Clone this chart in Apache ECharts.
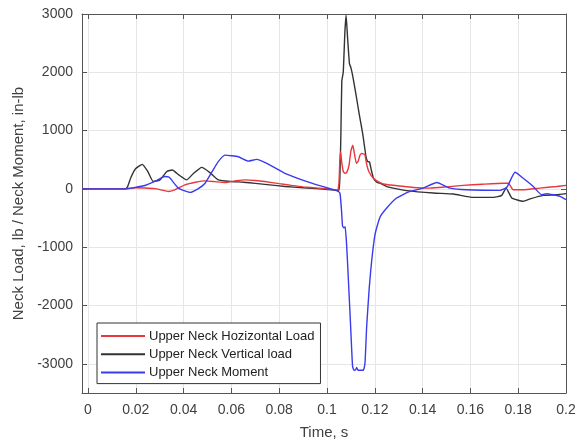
<!DOCTYPE html>
<html>
<head>
<meta charset="utf-8">
<script src="https://cdn.jsdelivr.net/npm/echarts@6/dist/echarts.min.js"></script>
<style>
html,body{margin:0;padding:0;background:#fff;}
#chart{width:587px;height:445px;}
</style>
</head>
<body>
<div id="chart"></div>
<script>
// Tick labels
var xTicks = [0, 0.02, 0.04, 0.06, 0.08, 0.1, 0.12, 0.14, 0.16, 0.18, 0.2];
var yTicks = [-3000, -2000, -1000, 0, 1000, 2000, 3000];

// Upper Neck Hozizontal Load (red)
var timeH = [-0.0025, 0, 0.010, 0.016, 0.020, 0.024, 0.028, 0.031, 0.0336, 0.036, 0.0406, 0.045, 0.049, 0.053, 0.0573, 0.062, 0.0657, 0.070, 0.074, 0.080, 0.0852, 0.090, 0.0964, 0.100, 0.1035, 0.1045, 0.1050, 0.1054, 0.1057, 0.1062, 0.1068, 0.1075, 0.1082, 0.1092, 0.1100, 0.1108, 0.1115, 0.1123, 0.1130, 0.1138, 0.1145, 0.1158, 0.1166, 0.1175, 0.1194, 0.1222, 0.125, 0.1305, 0.1361, 0.143, 0.150, 0.157, 0.165, 0.1738, 0.1759, 0.1779, 0.182, 0.189, 0.196, 0.2];
var loadH = [0, 0, 0, 5, 20, 15, 5, -20, -43, -20, 70, 115, 138, 125, 110, 140, 155, 145, 127, 90, 60, 35, 14, 0, -15, -20, 100, 500, 637, 450, 300, 270, 280, 400, 650, 749, 600, 440, 470, 580, 608, 590, 420, 300, 183, 110, 75, 50, 25, 14, 35, 60, 80, 98, 98, -15, -15, 14, 42, 60];

// Upper Neck Vertical load (black)
var timeV = [-0.0025, 0, 0.0155, 0.0165, 0.018, 0.020, 0.0227, 0.025, 0.0273, 0.030, 0.033, 0.0353, 0.038, 0.0413, 0.044, 0.0476, 0.051, 0.0545, 0.060, 0.065, 0.070, 0.076, 0.0824, 0.090, 0.097, 0.1035, 0.1050, 0.1054, 0.1058, 0.1062, 0.1068, 0.1075, 0.1080, 0.1086, 0.1094, 0.1100, 0.1108, 0.1120, 0.1135, 0.1150, 0.1163, 0.1170, 0.1178, 0.1185, 0.1195, 0.1210, 0.1222, 0.1250, 0.1277, 0.1333, 0.1445, 0.1529, 0.1612, 0.1696, 0.1731, 0.1749, 0.1773, 0.1793, 0.1821, 0.185, 0.1905, 0.196, 0.2];
var loadV = [0, 0, 0, 30, 200, 350, 421, 300, 127, 150, 300, 325, 240, 155, 260, 370, 280, 155, 127, 115, 95, 70, 42, 20, 0, -20, -30, 200, 900, 1850, 2000, 2700, 2980, 2600, 2150, 2080, 1930, 1650, 1280, 930, 560, 470, 460, 330, 180, 110, 98, 40, 14, -30, -71, -88, -145, -145, -110, 14, -156, -185, -212, -170, -110, -100, -80];

// Upper Neck Moment (blue)
var timeM = [-0.0025, 0, 0.016, 0.019, 0.0238, 0.028, 0.0322, 0.034, 0.0378, 0.0427, 0.046, 0.049, 0.052, 0.0545, 0.0573, 0.0629, 0.0671, 0.0706, 0.0748, 0.0824, 0.0936, 0.1000, 0.1040, 0.1054, 0.1061, 0.1065, 0.1071, 0.1076, 0.1082, 0.1089, 0.1099, 0.1107, 0.1113, 0.1120, 0.1124, 0.1130, 0.1152, 0.1159, 0.1166, 0.1177, 0.1187, 0.1201, 0.1222, 0.1250, 0.1291, 0.1347, 0.1403, 0.1459, 0.1515, 0.1585, 0.1724, 0.1752, 0.1787, 0.1821, 0.1863, 0.1898, 0.1919, 0.1947, 0.1975, 0.2];
var moment = [0, 0, 0, 20, 59, 130, 212, 200, 14, -60, 0, 98, 300, 467, 580, 551, 477, 506, 438, 268, 98, 20, -30, -70, -381, -636, -665, -650, -949, -1514, -2363, -3042, -3110, -3100, -3060, -3110, -3110, -2986, -2363, -1684, -1232, -779, -480, -326, -156, -42, 14, 110, 14, -15, -25, 25, 285, 183, 42, -100, -80, -100, -127, -185];

function zip(t, v) { return t.map(function (x, i) { return [x, v[i]]; }); }

var textColor = '#404040';
var font = 'Liberation Sans, Arial, Helvetica, sans-serif';

var chart = echarts.init(document.getElementById('chart'), null, { renderer: 'canvas' });
chart.setOption({
  animation: false,
  backgroundColor: '#ffffff',
  textStyle: { fontFamily: font },
  grid: { left: 82, right: 21, top: 14, bottom: 48, containLabel: false },
  legend: {
    orient: 'vertical',
    left: 97, top: 323,
    padding: [5, 6, 3, 4],
    itemWidth: 44, itemHeight: 2,
    itemGap: 2.3,
    icon: 'rect',
    backgroundColor: '#ffffff',
    borderColor: '#333333', borderWidth: 1,
    textStyle: { fontSize: 13, color: '#222', fontFamily: font, lineHeight: 16, padding: [0, 0, 0, -1] },
    data: ['Upper Neck Hozizontal Load', 'Upper Neck Vertical load', 'Upper Neck Moment']
  },
  xAxis: [{
    type: 'value', min: -0.0025, max: 0.2, splitNumber: 10,
    name: 'Time, s', nameLocation: 'middle', nameGap: 32,
    nameTextStyle: { fontSize: 15, color: textColor, fontFamily: font },
    axisLine: { show: true, onZero: false, lineStyle: { color: '#555', width: 1 } },
    axisTick: { show: true, inside: true, length: 5, customValues: xTicks, lineStyle: { color: '#555' } },
    axisLabel: { show: true, margin: 10, fontSize: 14, color: textColor, customValues: xTicks,
      formatter: function (v) { return String(+(+v).toFixed(3)); } },
    splitLine: { show: true, lineStyle: { color: '#e6e6e6', width: 1 } }
  }, {
    type: 'value', position: 'top', min: -0.0025, max: 0.2, splitNumber: 10,
    axisLine: { show: true, onZero: false, lineStyle: { color: '#555', width: 1 } },
    axisTick: { show: true, inside: true, length: 5, customValues: xTicks, lineStyle: { color: '#555' } },
    axisLabel: { show: false },
    splitLine: { show: false }
  }],
  yAxis: [{
    type: 'value', min: -3500, max: 3000, splitNumber: 6,
    name: 'Neck Load, lb / Neck Moment, in-lb', nameLocation: 'middle', nameGap: 43,
    nameTextStyle: { fontSize: 15, color: textColor, fontFamily: font },
    axisLine: { show: true, onZero: false, lineStyle: { color: '#555', width: 1 } },
    axisTick: { show: true, inside: true, length: 5, customValues: yTicks, lineStyle: { color: '#555' } },
    axisLabel: { show: true, margin: 9, fontSize: 14, color: textColor, customValues: yTicks,
      formatter: function (v) { return String(Math.round(v)); } },
    splitLine: { show: true, lineStyle: { color: '#e6e6e6', width: 1 } }
  }, {
    type: 'value', position: 'right', min: -3500, max: 3000, splitNumber: 6,
    axisLine: { show: true, onZero: false, lineStyle: { color: '#555', width: 1 } },
    axisTick: { show: true, inside: true, length: 5, customValues: yTicks, lineStyle: { color: '#555' } },
    axisLabel: { show: false },
    splitLine: { show: false }
  }],
  series: [
    { name: 'Upper Neck Hozizontal Load', type: 'line', xAxisIndex: 0, yAxisIndex: 0, showSymbol: false, symbol: 'none',
      smooth: 0.15, color: '#e8383d', lineStyle: { width: 1.4, color: '#e8383d' }, data: zip(timeH, loadH), z: 3 },
    { name: 'Upper Neck Vertical load', type: 'line', xAxisIndex: 0, yAxisIndex: 0, showSymbol: false, symbol: 'none',
      smooth: 0.15, color: '#333333', lineStyle: { width: 1.4, color: '#333333' }, data: zip(timeV, loadV), z: 2 },
    { name: 'Upper Neck Moment', type: 'line', xAxisIndex: 0, yAxisIndex: 0, showSymbol: false, symbol: 'none',
      smooth: 0.15, color: '#3a3af0', lineStyle: { width: 1.4, color: '#3a3af0' }, data: zip(timeM, moment), z: 4 }
  ]
});
</script>
</body>
</html>
